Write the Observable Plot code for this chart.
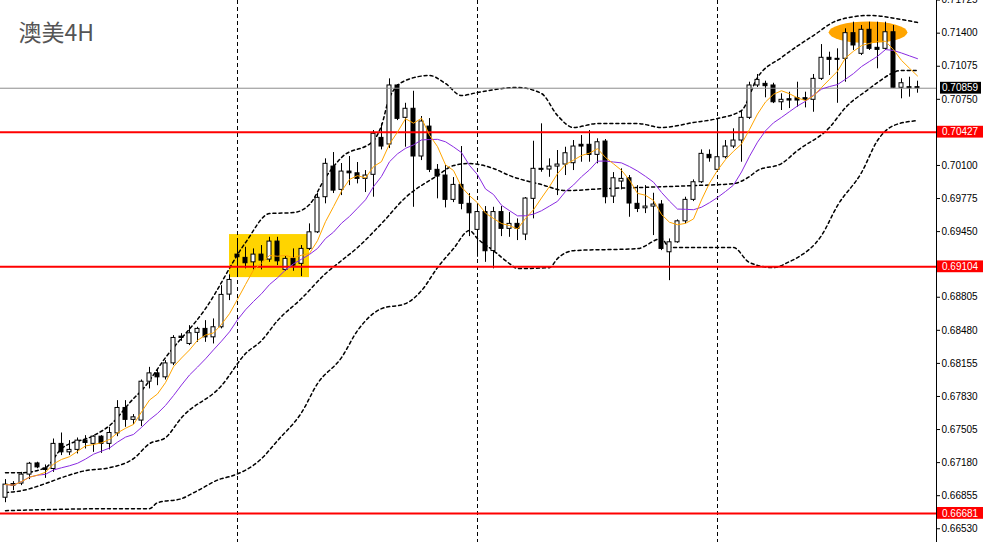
<!DOCTYPE html>
<html><head><meta charset="utf-8">
<script src="https://cdn.jsdelivr.net/npm/d3@7"></script>
<script src="https://cdn.jsdelivr.net/npm/@observablehq/plot@0.6"></script>
<style>html,body{margin:0;padding:0;background:#fff;overflow:hidden}</style>
</head><body><div id="chart"></div>
<script>
const title = "澳美4H";
const open = [0.66835,0.66969,0.66974,0.67062,0.67172,0.67123,0.67117,0.67364,0.67281,0.67305,
0.67396,0.67364,0.67435,0.67364,0.67467,0.67717,0.67600,0.67593,0.67975,0.68057,
0.68018,0.68155,0.68418,0.68346,0.68455,0.68494,0.68411,0.68510,0.68831,0.69224,
0.69192,0.69148,0.69224,0.69175,0.69352,0.69074,0.69182,0.69133,0.69280,0.69443,
0.69788,0.70089,0.69860,0.70040,0.70023,0.69968,0.70008,0.70371,0.70306,0.70886,
0.70568,0.70657,0.70188,0.70482,0.70057,0.70001,0.69762,0.69909,0.69723,0.69467,
0.69642,0.69259,0.69642,0.69477,0.69526,0.69421,0.69772,0.70067,0.70060,0.70089,
0.70109,0.70122,0.70303,0.70303,0.70204,0.70335,0.69794,0.69942,0.69974,0.69723,
0.69679,0.69696,0.69716,0.69247,0.69345,0.69551,0.69762,0.69935,0.70204,0.70057,
0.70181,0.70286,0.70345,0.70568,0.70886,0.70902,0.70886,0.70721,0.70751,0.70761,
0.70761,0.70745,0.70951,0.71158,0.71148,0.71148,0.71400,0.71197,0.71433,0.71256,
0.71246,0.71409,0.70863,0.70869,0.70869];
const high = [0.67013,0.66993,0.67084,0.67182,0.67184,0.67157,0.67412,0.67471,0.67396,0.67422,
0.67445,0.67445,0.67445,0.67527,0.67789,0.67789,0.67652,0.67992,0.68116,0.68094,
0.68182,0.68428,0.68447,0.68526,0.68510,0.68575,0.68592,0.68919,0.69025,0.69345,
0.69296,0.69280,0.69313,0.69394,0.69394,0.69205,0.69280,0.69313,0.69526,0.69827,
0.70165,0.70227,0.70119,0.70188,0.70129,0.70050,0.70443,0.70509,0.70951,0.70895,
0.70711,0.70829,0.70581,0.70561,0.70109,0.70099,0.69981,0.70286,0.69824,0.69691,
0.69696,0.69689,0.69696,0.69637,0.69575,0.69785,0.70338,0.70509,0.70165,0.70247,
0.70279,0.70345,0.70394,0.70443,0.70362,0.70355,0.70030,0.70067,0.70001,0.69902,
0.69902,0.69827,0.69755,0.69378,0.69565,0.69788,0.69958,0.70253,0.70253,0.70558,
0.70345,0.70460,0.70640,0.70918,0.70994,0.70928,0.70908,0.70804,0.70820,0.70918,
0.70820,0.70994,0.71288,0.71213,0.71246,0.71443,0.71508,0.71475,0.71508,0.71508,
0.71508,0.71475,0.70951,0.70967,0.70928];
const low = [0.66786,0.66904,0.66954,0.67013,0.67120,0.67025,0.67084,0.67249,0.67249,0.67265,
0.67314,0.67281,0.67271,0.67305,0.67435,0.67527,0.67553,0.67534,0.67904,0.67936,
0.67992,0.68133,0.68372,0.68330,0.68362,0.68362,0.68346,0.68494,0.68772,0.69034,
0.69084,0.69074,0.69074,0.69148,0.69116,0.69060,0.69060,0.69008,0.69263,0.69431,
0.69723,0.69824,0.69804,0.69902,0.69919,0.69834,0.69788,0.70253,0.70266,0.70541,
0.70279,0.69689,0.70148,0.70030,0.69772,0.69683,0.69735,0.69664,0.69401,0.69198,
0.69148,0.69084,0.69401,0.69394,0.69362,0.69362,0.69575,0.70033,0.69984,0.69804,
0.70001,0.70050,0.70132,0.70132,0.70116,0.69723,0.69726,0.69860,0.69591,0.69637,
0.69627,0.69411,0.69263,0.68968,0.69335,0.69526,0.69745,0.69922,0.70132,0.70040,
0.70165,0.70266,0.70132,0.70551,0.70866,0.70765,0.70708,0.70640,0.70659,0.70672,
0.70666,0.70623,0.70935,0.70984,0.70711,0.70918,0.71230,0.71180,0.71230,0.71050,
0.71230,0.70856,0.70755,0.70771,0.70810];
const close = [0.66964,0.66954,0.67062,0.67169,0.67133,0.67108,0.67364,0.67281,0.67305,0.67396,
0.67373,0.67435,0.67364,0.67471,0.67717,0.67600,0.67625,0.67975,0.68057,0.68018,
0.68155,0.68405,0.68405,0.68451,0.68494,0.68411,0.68510,0.68828,0.68975,0.69198,
0.69139,0.69224,0.69165,0.69352,0.69158,0.69182,0.69116,0.69280,0.69443,0.69782,
0.70116,0.69853,0.70040,0.70023,0.69968,0.70001,0.70411,0.70286,0.70886,0.70558,
0.70657,0.70188,0.70532,0.70057,0.69991,0.69762,0.69909,0.69723,0.69630,0.69642,
0.69257,0.69642,0.69477,0.69526,0.69477,0.69775,0.70067,0.70057,0.70089,0.70109,
0.70220,0.70286,0.70286,0.70204,0.70328,0.69788,0.69974,0.69968,0.69726,0.69673,
0.69696,0.69716,0.69280,0.69345,0.69551,0.69762,0.69935,0.70214,0.70171,0.70181,
0.70286,0.70345,0.70568,0.70886,0.70941,0.70879,0.70721,0.70745,0.70738,0.70738,
0.70745,0.70951,0.71158,0.71138,0.71138,0.71400,0.71279,0.71433,0.71246,0.71236,
0.71409,0.70863,0.70908,0.70859,0.70859];

const upperIdx = [0,2,5,7,11,13,16,17,20,25,30,33,36,38,40,42,46,47,48,50,53,55,57,59,64,67,69,71,74,79,82,86,89,92,94,97,101,104,108,112,114];
const upperVal = [0.67081,0.67081,0.67130,0.67317,0.67445,0.67543,0.67809,0.67887,0.68212,0.68693,0.69342,0.69627,0.69637,0.69716,0.69981,0.70178,0.70345,0.70492,0.70768,0.70935,0.70984,0.70905,0.70787,0.70817,0.70866,0.70807,0.70591,0.70473,0.70512,0.70512,0.70473,0.70522,0.70561,0.70640,0.70964,0.71161,0.71377,0.71525,0.71574,0.71534,0.71505];
const midIdx = [0,2,5,7,10,13,16,18,20,22,27,30,32,34,37,40,42,44,47,50,54,56,58,61,63,67,70,75,79,86,91,93,94,97,99,103,105,108,109,112,114];
const midVal = [0.66885,0.66904,0.66974,0.67032,0.67101,0.67130,0.67219,0.67366,0.67425,0.67622,0.67936,0.68251,0.68379,0.68575,0.68792,0.69037,0.69165,0.69293,0.69529,0.69785,0.70001,0.70099,0.70119,0.70070,0.70001,0.69912,0.69853,0.69873,0.69883,0.69902,0.69922,0.69991,0.70050,0.70119,0.70247,0.70473,0.70669,0.70856,0.70915,0.71033,0.71033];
const lowerIdx = [0,5,13,18,19,22,24,27,28,32,34,37,39,42,44,47,50,52,54,56,58,59,61,63,64,68,69,71,79,82,83,91,93,96,98,99,102,104,107,109,111,114];
const lowerVal = [0.66708,0.66718,0.66727,0.66727,0.66786,0.66826,0.66904,0.67023,0.67042,0.67219,0.67396,0.67671,0.67956,0.68212,0.68477,0.68693,0.68742,0.68870,0.69096,0.69283,0.69460,0.69381,0.69263,0.69136,0.69087,0.69096,0.69185,0.69263,0.69283,0.69381,0.69293,0.69293,0.69146,0.69096,0.69155,0.69195,0.69411,0.69706,0.70030,0.70345,0.70492,0.70541];

const tickValues = [0.71725,0.71400,0.71075,0.70750,0.70100,0.69775,0.69450,0.68805,0.68480,0.68155,0.67830,0.67505,0.67180,0.66855,0.66530];
const redLevels = [0.70427,0.69104,0.66681];
const lastPrice = 0.70859;
const weekStarts = [29,59,89];
const yellowZone = [{x1:28, x2:38, y1:0.68998, y2:0.69421}];
const orangeZone = [{x1:102.96, x2:112.8, y1:0.71298, y2:0.71510}];

// layout
const W = 984, H = 542, plotRight = 936;
const px2i = px => (px - 5) / 8;

function sma(arr, n) {
  return arr.map((_, k) => d3.mean(arr.slice(Math.max(0, k - n + 1), k + 1)));
}
const ma5 = sma(close, 5), ma10 = sma(close, 10);
const rows = open.map((o, i) => ({i, open:o, high:high[i], low:low[i], close:close[i], ma5:ma5[i], ma10:ma10[i]}));
const up = rows.filter(d => d.close >= d.open), dn = rows.filter(d => d.close < d.open);
const band = (idx, val) => idx.map((i, k) => ({i, v: val[k]}));
const halfBox = 0.00058;
const boxes = [...redLevels.map(v => ({v, c:"#ff0000", x1:937, x2:983})), {v:lastPrice, c:"#000000", x1:940, x2:981}];

const chart = Plot.plot({
  width: W, height: H,
  marginLeft: 0, marginRight: W - plotRight, marginTop: 0, marginBottom: 0,
  style: {fontFamily: "Liberation Sans, Arial, sans-serif", fontSize: "10px", background: "#fff", overflow: "visible"},
  x: {domain: [px2i(0), px2i(plotRight)], axis: null},
  y: {domain: [0.66395, 0.71721]},
  marks: [
    Plot.rect(yellowZone, {x1:"x1", x2:"x2", y1:"y1", y2:"y2", fill:"#FFD400"}),
    Plot.rect(orangeZone, {x1:"x1", x2:"x2", y1:"y1", y2:"y2", fill:"#FFA500", rx:100, ry:100}),
    Plot.ruleX(weekStarts, {stroke:"#000", strokeDasharray:"4,3"}),
    Plot.line(band(upperIdx, upperVal), {x:"i", y:"v", stroke:"#000", strokeDasharray:"3,3", curve:"monotone-x"}),
    Plot.line(band(midIdx, midVal), {x:"i", y:"v", stroke:"#000", strokeDasharray:"3,3", curve:"monotone-x"}),
    Plot.line(band(lowerIdx, lowerVal), {x:"i", y:"v", stroke:"#000", strokeDasharray:"3,3", curve:"monotone-x"}),
    Plot.ruleX(rows, {x:"i", y1:"low", y2:"high", stroke:"#000"}),
    Plot.rect(up, {x1: d => d.i - 0.25, x2: d => d.i + 0.25, y1:"open", y2:"close", fill:"#fff", stroke:"#000"}),
    Plot.rect(dn, {x1: d => d.i - 0.25, x2: d => d.i + 0.25, y1:"open", y2:"close", fill:"#000", stroke:"#000"}),
    Plot.ruleY(redLevels, {stroke:"#ff0000", strokeWidth:2}),
    Plot.ruleY([lastPrice], {stroke:"#8c8c8c"}),
    Plot.line(rows, {x:"i", y:"ma10", stroke:"#8A2BE2", strokeWidth:1}),
    Plot.line(rows, {x:"i", y:"ma5", stroke:"#FFA500", strokeWidth:1}),
    Plot.ruleX([px2i(plotRight)], {stroke:"#000"}),
    Plot.axisY(tickValues, {anchor:"right", tickSize:3, tickPadding:2, tickFormat: d => d.toFixed(5), fill:"#000", label:null}),
    Plot.rect(boxes, {x1: d => px2i(d.x1), x2: d => px2i(d.x2), y1: d => d.v - halfBox, y2: d => d.v + halfBox, fill: d => d.c}),
    Plot.text(boxes, {x: px2i(941.5), y:"v", text: d => d.v.toFixed(5), textAnchor:"start", fill:"#fff", fontSize:10}),
    Plot.text([title], {frameAnchor:"top-left", dx:18, dy:33, lineAnchor:"middle", textAnchor:"start", fontSize:23, fill:"#555", fontFamily:"Noto Sans CJK SC"})
  ]
});
document.getElementById("chart").appendChild(chart);
</script>
</body></html>
